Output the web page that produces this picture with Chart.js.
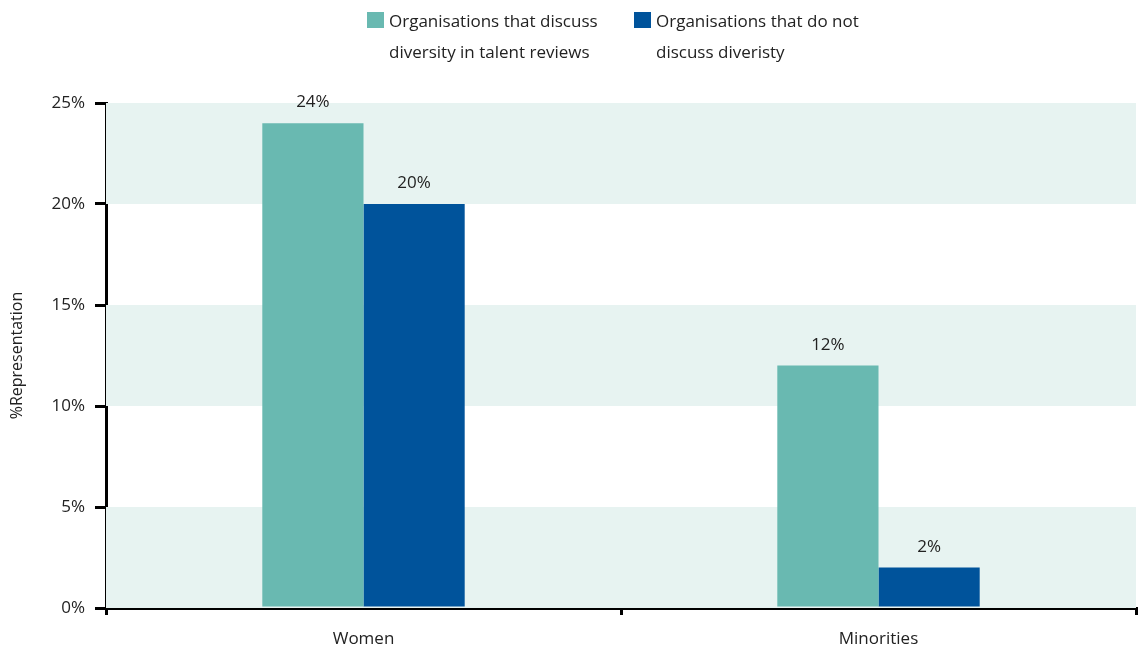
<!DOCTYPE html>
<html>
<head>
<meta charset="utf-8">
<script src="https://cdn.jsdelivr.net/npm/chart.js@4"></script>
<style>
  html, body { margin: 0; padding: 0; background: #fff; }
</style>
</head>
<body>
<canvas id="repChart" width="1142" height="650"></canvas>
<script>
const categories = ['Women', 'Minorities'];
const discussValues = [24, 12];
const noDiscussValues = [20, 2];
const seriesNames = [
  ['Organisations that discuss', 'diversity in talent reviews'],
  ['Organisations that do not', 'discuss diveristy']
];
const yTicks = [0, 5, 10, 15, 20, 25];

const TEAL = '#69b9b1';
const BLUE = '#00539b';
const BAND = '#e7f3f1';
const FONT = '"Open Sans", "Noto Sans", sans-serif';
const SIZE = 17;

// alternating shaded bands behind the bars
const bandPlugin = {
  id: 'bands',
  beforeDatasetsDraw(chart) {
    const { ctx, chartArea, scales: { y } } = chart;
    ctx.save();
    ctx.fillStyle = BAND;
    for (let i = 0; i < yTicks.length - 1; i += 2) {
      const top = y.getPixelForValue(yTicks[i + 1]);
      const bottom = y.getPixelForValue(yTicks[i]);
      ctx.fillRect(chartArea.left, top, chartArea.right - chartArea.left, bottom - top);
    }
    ctx.restore();
  }
};

// value labels over each bar
const valueLabels = {
  id: 'valueLabels',
  afterDatasetsDraw(chart) {
    const { ctx } = chart;
    ctx.save();
    ctx.font = SIZE + 'px ' + FONT;
    ctx.fillStyle = '#222';
    ctx.textAlign = 'center';
    ctx.textBaseline = 'alphabetic';
    chart.data.datasets.forEach((ds, di) => {
      chart.getDatasetMeta(di).data.forEach((bar, i) => {
        ctx.fillText(ds.data[i] + '%', bar.x, bar.y - 16);
      });
    });
    ctx.restore();
  }
};

// two-line legend at the top
const topLegend = {
  id: 'topLegend',
  afterDraw(chart) {
    const { ctx } = chart;
    const items = [
      { x: 367, color: TEAL, lines: seriesNames[0] },
      { x: 634, color: BLUE, lines: seriesNames[1] }
    ];
    ctx.save();
    ctx.font = SIZE + 'px ' + FONT;
    ctx.textBaseline = 'middle';
    ctx.textAlign = 'left';
    items.forEach(it => {
      ctx.fillStyle = it.color;
      ctx.fillRect(it.x, 12, 17, 16);
      ctx.fillStyle = '#222';
      it.lines.forEach((line, li) => {
        ctx.fillText(line, it.x + 22, 22 + li * 31);
      });
    });
    ctx.restore();
  }
};

new Chart(document.getElementById('repChart'), {
  type: 'bar',
  data: {
    labels: categories,
    datasets: [
      { label: seriesNames[0].join(' '), data: discussValues, backgroundColor: TEAL },
      { label: seriesNames[1].join(' '), data: noDiscussValues, backgroundColor: BLUE }
    ]
  },
  options: {
    responsive: false,
    animation: false,
    layout: { padding: { top: 103, right: 6, left: 8, bottom: 0 } },
    datasets: { bar: { barPercentage: 1, categoryPercentage: 0.393 } },
    plugins: {
      legend: { display: false },
      tooltip: { enabled: false }
    },
    scales: {
      x: {
        afterFit(axis) { axis.height = 42; },
        grid: {
          offset: true,
          drawOnChartArea: false,
          drawTicks: true,
          tickLength: 7,
          tickColor: '#000',
          lineWidth: 3
        },
        border: { color: '#000', width: 3 },
        ticks: { color: '#222', font: { family: FONT, size: SIZE }, padding: 14 }
      },
      y: {
        min: 0,
        max: 25,
        afterFit(axis) { axis.width = 98; },
        afterBuildTicks(axis) {
          axis.ticks = yTicks.map(v => ({ value: v }));
        },
        grid: {
          drawOnChartArea: false,
          drawTicks: true,
          tickLength: 11,
          tickColor: '#000',
          lineWidth: 3
        },
        border: { color: '#000', width: 3 },
        ticks: {
          color: '#222',
          font: { family: FONT, size: SIZE },
          padding: 10,
          callback: v => v + '%'
        },
        title: {
          display: true,
          text: '%Representation',
          color: '#222',
          font: { family: FONT, size: SIZE - 1 },
          padding: { top: 0, bottom: 4 }
        }
      }
    }
  },
  plugins: [bandPlugin, valueLabels, topLegend]
});
</script>
</body>
</html>
